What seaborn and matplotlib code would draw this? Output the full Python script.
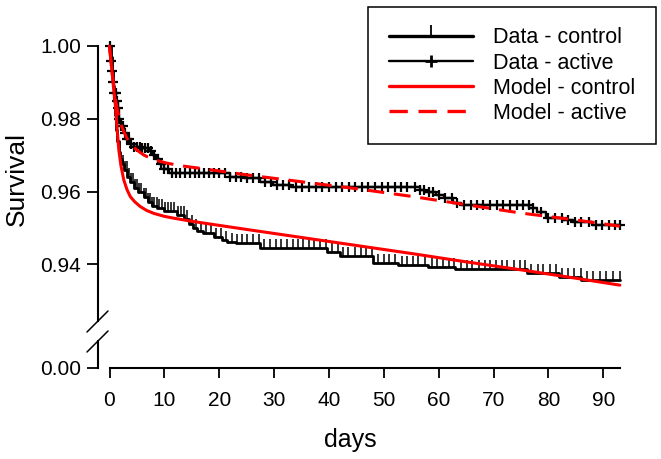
import numpy as np
import pandas as pd
import matplotlib
matplotlib.use("Agg")
import matplotlib.pyplot as plt
from matplotlib.lines import Line2D
import seaborn as sns

# ---------------- data ----------------
ctrl_t = [0.0, 0.2, 0.4, 0.6, 0.8, 1.0, 1.2, 1.4, 1.7, 2.0, 2.3, 2.7, 3.2, 3.7, 4.4, 5.2,
          6.2, 7.0, 7.8, 8.7, 10.0, 12.3, 13.6, 14.4, 15.2, 16.0, 17.0, 19.0, 20.5, 21.4,
          23.0, 27.5, 39.6, 42.0, 48.0, 52.5, 58.0, 63.0, 76.0, 82.0, 86.0, 93.0]
ctrl_s = [1.0, 0.997, 0.993, 0.989, 0.985, 0.981, 0.977, 0.974, 0.971, 0.969, 0.9675, 0.966,
          0.964, 0.9625, 0.961, 0.9598, 0.9586, 0.9572, 0.956, 0.9554, 0.9548, 0.9536, 0.9525,
          0.9512, 0.950, 0.9492, 0.9485, 0.9476, 0.9468, 0.9462, 0.9458, 0.9444, 0.9435,
          0.9422, 0.9405, 0.9398, 0.9392, 0.9388, 0.9376, 0.9365, 0.9357, 0.9357]

act_t = [0.0, 0.15, 0.3, 0.5, 0.7, 0.9, 1.2, 1.5, 1.8, 2.1, 2.6, 3.2, 3.8, 4.5, 6.0, 7.2,
         7.8, 8.5, 9.2, 10.0, 10.8, 22.0, 24.5, 27.5, 29.8, 33.0, 56.5, 57.5, 59.5, 61.0,
         62.6, 64.0, 76.5, 78.0, 79.5, 82.6, 84.4, 88.0, 93.0]
act_s = [1.0, 0.998, 0.996, 0.993, 0.990, 0.987, 0.985, 0.983, 0.980, 0.978, 0.976, 0.9745,
         0.9732, 0.9723, 0.9719, 0.9712, 0.970, 0.969, 0.9675, 0.9662, 0.9652, 0.9641,
         0.9636, 0.9627, 0.9618, 0.9613, 0.9605, 0.9598, 0.959, 0.9582, 0.9568, 0.9563,
         0.9555, 0.9545, 0.9528, 0.9522, 0.9516, 0.9508, 0.9508]

ctrl_censor = [1.6, 2.0, 2.4, 2.8, 3.1, 3.5, 3.9, 4.3, 4.7, 5.0, 5.4, 5.8, 6.2, 6.6, 7.0, 7.4,
               7.8, 8.2, 8.6, 9.1, 9.6, 10.1, 10.6, 11.2, 11.8, 12.4, 13.0, 13.5, 14.2, 15.0,
               15.8, 16.7, 17.6, 18.5, 19.5, 20.4, 21.3, 22.3, 23.2, 24.2, 25.1, 26.2, 27.3,
               28.2, 29.2, 30.3, 31.2, 32.3, 33.4, 34.3, 35.3, 36.4, 37.3, 38.4, 39.5, 40.5,
               41.6, 42.6, 43.5, 44.7, 45.8, 46.8, 47.8, 48.9, 50.1, 51.0, 52.1, 53.3, 54.2,
               55.3, 56.3, 57.5, 58.7, 59.6, 60.7, 61.9, 62.8, 64.0, 65.2, 66.1, 67.3, 68.4,
               69.3, 70.5, 71.6, 72.5, 73.7, 74.8, 75.8, 76.9, 78.1, 79.0, 80.2, 81.3, 82.5,
               83.5, 84.7, 85.9, 87.0, 88.2, 89.4, 90.5, 91.8, 93.0]

act_censor = [0.1, 0.3, 0.5, 0.7, 0.9, 1.1, 1.3, 1.5, 1.8, 2.1, 2.4, 2.8, 3.2, 3.6, 4.0, 4.5,
              5.0, 5.5, 6.0, 6.5, 7.0, 7.6, 8.2, 8.8, 9.4, 10.0, 10.7, 11.4, 12.1, 12.9, 13.7,
              14.6, 15.5, 16.4, 17.3, 18.2, 19.1, 20.0, 21.0, 22.0, 23.0, 24.0, 25.1, 26.1,
              27.2, 28.3, 29.4, 30.5, 31.6, 32.8, 34.0, 35.1, 36.4, 37.6, 38.7, 40.0, 41.2,
              42.3, 43.6, 44.8, 46.0, 47.1, 48.4, 49.6, 50.7, 52.0, 53.2, 54.3, 55.6, 56.6,
              57.4, 58.2, 59.0, 60.0, 61.2, 62.4, 63.4, 64.6, 65.8, 67.0, 68.1, 69.4, 70.6,
              71.7, 73.0, 74.2, 75.4, 76.4, 77.2, 78.6, 80.0, 81.2, 82.4, 83.6, 84.8, 86.0,
              87.4, 88.6, 89.8, 91.0, 92.2, 93.0]

mod_ctrl_t = [0, 0.25, 0.5, 0.8, 1.1, 1.4, 1.7, 2.1, 2.6, 3.2, 3.8, 4.6, 5.6, 6.8, 8.1, 10.0,
              11.7, 14.0, 16.5, 25, 35, 45, 55, 65, 75, 85, 93]
mod_ctrl_s = [1.0, 0.996, 0.9925, 0.988, 0.9833, 0.977, 0.9714, 0.967, 0.9632, 0.9605, 0.9586,
              0.9572, 0.9559, 0.9548, 0.954, 0.9532, 0.9527, 0.9521, 0.9515, 0.9496, 0.9474,
              0.9452, 0.943, 0.9407, 0.9385, 0.9362, 0.9343]

mod_act_t = [0, 0.25, 0.5, 0.8, 1.1, 1.5, 2.0, 2.6, 3.2, 4.0, 5.0, 6.2, 7.5, 9.0, 10.5, 13,
             16.5, 25, 35, 45, 55, 65, 75, 85, 93]
mod_act_s = [1.0, 0.996, 0.9925, 0.9885, 0.9852, 0.982, 0.9788, 0.9765, 0.9746, 0.9728, 0.9714,
             0.9701, 0.9691, 0.9684, 0.9678, 0.9671, 0.9664, 0.9646, 0.9627, 0.9608, 0.9587,
             0.9564, 0.9541, 0.9522, 0.9505]

xticks = [0, 10, 20, 30, 40, 50, 60, 70, 80, 90]
yticks_top = [0.94, 0.96, 0.98, 1.00]
labels = ["Data - control", "Data - active", "Model - control", "Model - active"]

# ---------------- style ----------------
sns.set_style("white")
plt.rcParams['font.family'] = ['Liberation Sans', 'DejaVu Sans']
for k in ("text.color", "axes.labelcolor", "xtick.color", "ytick.color", "axes.edgecolor"):
    plt.rcParams[k] = "black"

W, H = 661, 459
fig = plt.figure(figsize=(W / 100, H / 100), dpi=100)

def fx(px):
    return px / W

def fy(py):
    return 1 - py / H

# pixel geometry
x_left, x_right = 98, 625
x0_px, px_per_day = 109.5, 5.487
xlim = ((x_left - x0_px) / px_per_day, (x_right - x0_px) / px_per_day)
top_px, brk_top_px = 40, 321
px_per_unit = 3640.0
y100_px = 46
ylim_top = (1 - (brk_top_px - y100_px) / px_per_unit, 1 + (y100_px - top_px) / px_per_unit)

ax = fig.add_axes([fx(x_left), fy(brk_top_px), fx(x_right) - fx(x_left), fy(top_px) - fy(brk_top_px)])
axb = fig.add_axes([fx(x_left), fy(367.5), fx(x_right) - fx(x_left), fy(341) - fy(367.5)])

BLACK = "#000000"
RED = "#ff0000"

def step_vals(t, s, c):
    t = np.asarray(t); s = np.asarray(s)
    idx = np.searchsorted(t, np.asarray(c), side="right") - 1
    return s[idx]

dctrl = pd.DataFrame({"days": ctrl_t, "surv": ctrl_s})
dact = pd.DataFrame({"days": act_t, "surv": act_s})
dmc = pd.DataFrame({"days": mod_ctrl_t, "surv": mod_ctrl_s})
dma = pd.DataFrame({"days": mod_act_t, "surv": mod_act_s})

sns.lineplot(data=dctrl, x="days", y="surv", ax=ax, color=BLACK, lw=2.0,
             drawstyle="steps-post", estimator=None, sort=False, legend=False)
sns.lineplot(data=dact, x="days", y="surv", ax=ax, color=BLACK, lw=1.7,
             drawstyle="steps-post", estimator=None, sort=False, legend=False)
ax.plot(ctrl_censor, step_vals(ctrl_t, ctrl_s, ctrl_censor), linestyle="none",
        marker=2, ms=6.5, mew=1.1, color=BLACK)
ax.plot(act_censor, step_vals(act_t, act_s, act_censor), linestyle="none",
        marker="+", ms=7, mew=1.6, color=BLACK)
sns.lineplot(data=dmc, x="days", y="surv", ax=ax, color=RED, lw=2.2,
             estimator=None, sort=False, legend=False)
sns.lineplot(data=dma, x="days", y="surv", ax=ax, color=RED, lw=2.2,
             estimator=None, sort=False, legend=False)
ax.lines[-1].set_linestyle((0, (5.5, 3.2)))

for a in (ax, axb):
    a.set_xlim(*xlim)
    a.set_xlabel("")
    a.set_ylabel("")
    a.patch.set_alpha(0)
    for side in ("top", "right"):
        a.spines[side].set_visible(False)
    for side in ("left", "bottom"):
        a.spines[side].set_linewidth(1.5)
        a.spines[side].set_color(BLACK)

ax.set_ylim(*ylim_top)
ax.spines["bottom"].set_visible(False)
ax.spines["left"].set_bounds(ylim_top[0], 1.0)
ax.set_yticks(yticks_top)
ax.set_yticklabels([f"{v:.2f}" for v in yticks_top])
ax.set_xticks([])
ax.tick_params(axis="y", direction="out", length=8, width=1.3, pad=4, labelsize=15,
               color=BLACK, labelcolor=BLACK, left=True)

axb.set_ylim(0, 1)
axb.set_yticks([0])
axb.set_yticklabels(["0.00"])
axb.set_xticks(xticks)
axb.set_xticklabels([str(v) for v in xticks])
axb.spines["bottom"].set_bounds(0, 93)
axb.tick_params(axis="y", direction="out", length=8, width=1.3, pad=4, labelsize=15,
                color=BLACK, labelcolor=BLACK, left=True)
axb.tick_params(axis="x", direction="out", length=7, width=1.3, pad=10, labelsize=15,
                color=BLACK, labelcolor=BLACK, bottom=True)

# axis break marks
for (xa, ya, xb, yb) in [(87, 332, 108, 311), (87, 352, 108, 331)]:
    fig.add_artist(Line2D([fx(xa), fx(xb)], [fy(ya), fy(yb)], color=BLACK, lw=1.1,
                          transform=fig.transFigure))

# axis labels
fig.text(fx(350), fy(440), "days", ha="center", va="center", fontsize=18, color=BLACK)
fig.text(fx(17), fy(179), "Survival", ha="center", va="center", rotation=90, fontsize=19,
         color=BLACK)

# legend
handles = [
    Line2D([], [], color=BLACK, lw=2.4, marker=2, ms=8, mew=1.3),
    Line2D([], [], color=BLACK, lw=1.7, marker="+", ms=8, mew=2.0),
    Line2D([], [], color=RED, lw=2.4),
    Line2D([], [], color=RED, lw=2.4, linestyle=(0, (5.5, 3.2))),
]
leg = fig.legend(handles, labels, loc="upper right", bbox_to_anchor=(fx(656), fy(7)),
                 frameon=True, fancybox=False, edgecolor=BLACK, framealpha=1, fontsize=15.5,
                 handlelength=3.9, handletextpad=0.95, borderpad=0.95, labelspacing=0.19,
                 borderaxespad=0, numpoints=1)
leg.get_frame().set_linewidth(1.1)
leg.get_frame().set_facecolor("white")
for t in leg.get_texts():
    t.set_color(BLACK)

fig.savefig("out.png", dpi=100)
